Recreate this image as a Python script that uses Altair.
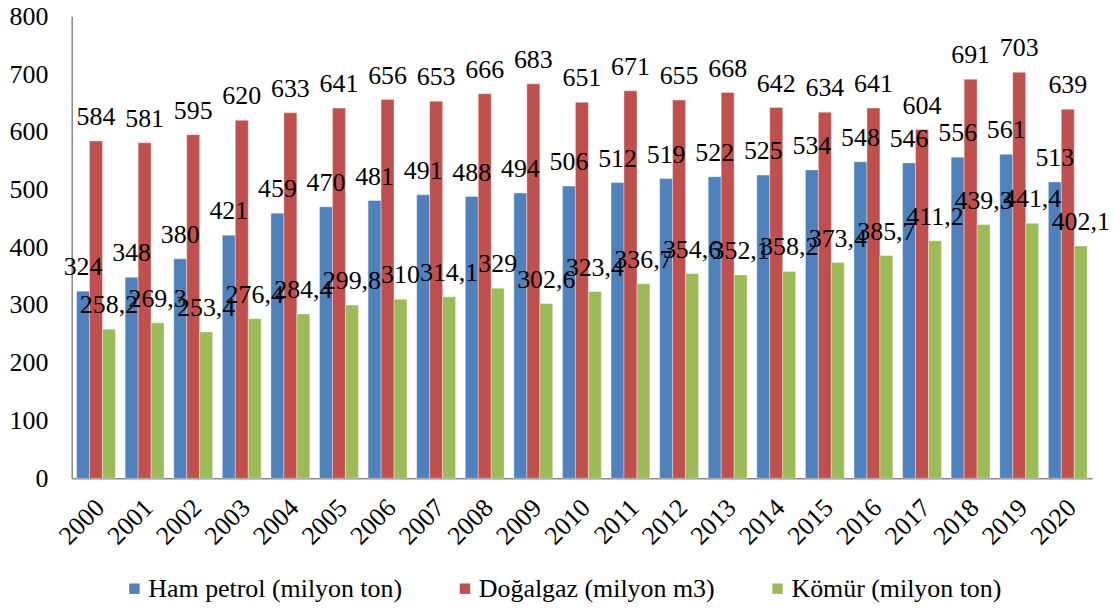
import altair as alt
import pandas as pd

years = [str(y) for y in range(2000, 2021)]
series = ["Ham petrol (milyon ton)", "Doğalgaz (milyon m3)", "Kömür (milyon ton)"]
ham_petrol = [324, 348, 380, 421, 459, 470, 481, 491, 488, 494, 506, 512, 519, 522, 525, 534, 548, 546, 556, 561, 513]
dogalgaz = [584, 581, 595, 620, 633, 641, 656, 653, 666, 683, 651, 671, 655, 668, 642, 634, 641, 604, 691, 703, 639]
komur = [258.2, 269.3, 253.4, 276.4, 284.4, 299.8, 310, 314.1, 329, 302.6, 323.4, 336.7, 354.6, 352.1, 358.2, 373.4, 385.7, 411.2, 439.3, 441.4, 402.1]
colors = ["#4F81BD", "#C0504D", "#9BBB59"]

rows = []
for vals, s in zip([ham_petrol, dogalgaz, komur], series):
    for y, v in zip(years, vals):
        rows.append({"year": y, "series": s, "value": v})
df = pd.DataFrame(rows)

FONT = "'Liberation Serif', 'Times New Roman', Times, serif"

base = alt.Chart(df).encode(
    x=alt.X("year:N", title=None, sort=years,
            scale=alt.Scale(paddingInner=0.2, paddingOuter=0.1),
            axis=alt.Axis(labelAngle=-45, labelFont=FONT, labelFontSize=26, labelColor="black",
                          domainColor="#888888", domainWidth=1.5, ticks=False, labelPadding=16,
                          labelOffset=-5)),
    xOffset=alt.XOffset("series:N", sort=series),
)

bars = base.mark_bar(stroke="#ffffff", strokeWidth=0.6, strokeOpacity=0.6).encode(
    y=alt.Y("value:Q", title=None, scale=alt.Scale(domain=[0, 800], nice=False),
            axis=alt.Axis(values=[0, 100, 200, 300, 400, 500, 600, 700, 800], grid=False, ticks=False,
                          labelFont=FONT, labelFontSize=26, labelColor="black", labelPadding=24,
                          domainColor="#888888", domainWidth=1.5)),
    color=alt.Color("series:N", sort=series, scale=alt.Scale(domain=series, range=colors),
                    legend=alt.Legend(title=None, orient="none", direction="horizontal",
                                      legendX=50, legendY=562, symbolType="square", symbolSize=110,
                                      symbolStrokeWidth=0, labelFont=FONT, labelFontSize=26,
                                      labelColor="black", columnPadding=50, symbolOffset=0,
                                      labelOffset=1, labelLimit=400)),
)

labels = base.mark_text(font=FONT, fontSize=26, color="black", baseline="alphabetic", dy=-16).encode(
    y=alt.Y("value:Q"),
    text=alt.Text("label:N"),
).transform_calculate(label="replace(toString(datum.value), '.', ',')")

chart = alt.layer(bars, labels).properties(
    width=1025, height=464,
    autosize=alt.AutoSizeParams(type="none"),
    padding={"left": 64, "top": 7, "right": 20, "bottom": 125},
).configure_view(stroke=None)

chart.save("out.html", embed_options={"renderer": "svg", "actions": False})
